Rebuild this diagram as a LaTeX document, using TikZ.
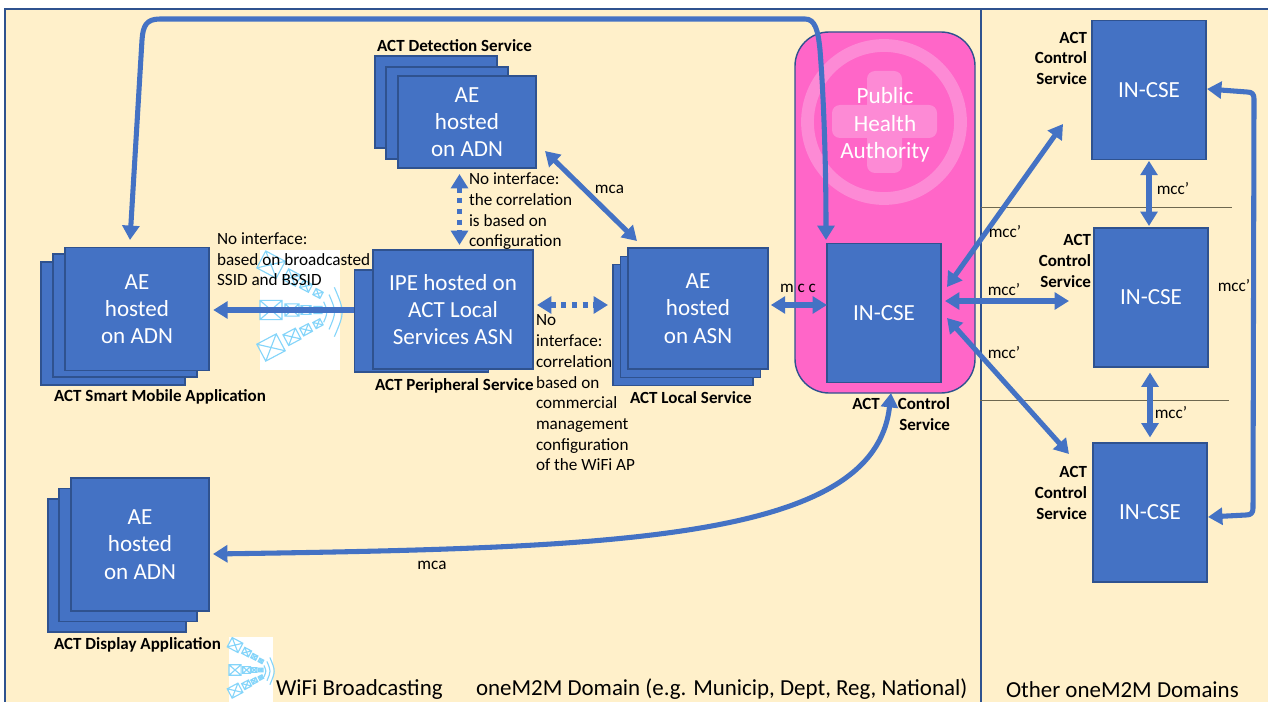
\documentclass[tikz,border=0pt]{standalone}
\usepackage{fontspec}
\setmainfont{Carlito}
\usetikzlibrary{arrows.meta,calc}
\definecolor{panelbg}{HTML}{FFF0CA}
\definecolor{cellblue}{HTML}{4472C4}
\definecolor{celledge}{HTML}{2F528F}
\definecolor{authpink}{HTML}{FF66C8}
\definecolor{authicon}{HTML}{FD8AD5}
\definecolor{wifiblue}{HTML}{85D5FA}
\definecolor{rulegray}{HTML}{6E6850}
\begin{document}
\begin{tikzpicture}[x=0.025cm,y=-0.025cm]

        \tikzset{
            cell/.style={draw=celledge, fill=cellblue, line width=1.1pt, text=white, align=center, outer sep=0pt, inner sep=0pt, font=\fontsize{16.4}{19.4}\selectfont},
            smartbox/.style={cell, minimum width=3.6cm, minimum height=3.075cm},
            displaybox/.style={cell, minimum width=3.45cm, minimum height=3.325cm},
            detectbox/.style={cell, minimum width=3.05cm, minimum height=2.3cm},
            asnbox/.style={cell, minimum width=3.5cm, minimum height=3.025cm},
            csebox/.style={cell, minimum width=2.85cm, minimum height=3.47cm},
            title/.style={font=\fontsize{12.1}{14.8}\bfseries\selectfont, inner sep=0pt, outer sep=0pt, align=center, yshift=-1pt},
            note/.style={font=\fontsize{12.2}{14.7}\selectfont, inner sep=0pt, outer sep=0pt, align=left, yshift=-0.7pt},
            foot/.style={font=\fontsize{16.3}{18}\selectfont, inner sep=0pt, outer sep=0pt, anchor=west, yshift=-1pt},
            link/.style={line width=3.6pt, color=cellblue, line join=round, {Triangle[length=0.36cm,width=0.42cm]}-{Triangle[length=0.36cm,width=0.42cm]}},
            linkD/.style={link, dash pattern=on 3.6pt off 4pt},
            single/.style={line width=3.6pt, color=cellblue, line join=round, -{Triangle[length=0.36cm,width=0.42cm]}},
            wifi/.pic={
                \fill[white] (0,0) rectangle (80,120);
                \foreach \k/\a in {-46/-28,0/0,38/28} {
                    \foreach \u/\s in {11/22,32/14,46/10,58/8} {
                        \begin{scope}[shift={(\u,{60+\k*(85-\u)/75})},rotate=\a]
                            \draw[wifiblue, line width=0.8pt] (-\s/2,-\s/2.3) rectangle (\s/2,\s/2.3) -- (0,0) -- (-\s/2,\s/2.3) (-\s/2,-\s/2.3) -- (0,0) -- (\s/2,-\s/2.3);
                        \end{scope}
                    }
                }
                \foreach \r in {10,17,24} {
                    \draw[wifiblue, line width=0.8pt] ({56+\r*cos(40)},{62-\r*sin(40)*1.6}) .. controls ({56+\r*1.2},62) .. ({56+\r*cos(40)},{62+\r*sin(40)*1.6});
                }
            }
        }

        \useasboundingbox (0,0) rectangle (1268,702);

        \fill[panelbg] (5,9) rectangle (1268,702);
        \draw[celledge, line width=1.3pt] (5,702) -- (5,9) -- (1268,9);
        \draw[celledge, line width=1.1pt] (981,9) -- (981,702);
        \draw[rulegray, line width=0.7pt] (981,207) -- (1232,207);
        \draw[rulegray, line width=0.7pt] (980,400) -- (1229,400);

        % WiFi pictures
        \pic at (260,250) {wifi};
        \pic[scale=0.55] at (229,637) {wifi};

        % public health authority
        \draw[celledge, fill=authpink, line width=1pt, rounded corners=0.85cm] (795,32) rectangle (975,393);
        \draw[authicon, line width=0.32cm] (884,122) circle (76.5);
        \fill[authicon, rounded corners=0.2cm] (867,71) rectangle (902,173);
        \fill[authicon, rounded corners=0.2cm] (832,105) rectangle (937,138);
        \node[text=white, align=center, inner sep=0pt, font=\fontsize{16.5}{19.6}\selectfont] (authority) at (885,125) {Public\\Health\\Authority};

        % stacks
        \node[smartbox] (smartback) at (113,323.5) {};
        \node[smartbox] (smartmid) at (125,315.5) {};
        \node[smartbox] (smartfront) at (137,309) {AE\\hosted\\on ADN};

        \node[detectbox] (detectback) at (436,102) {};
        \node[detectbox] (detectmid) at (447,113) {};
        \node[cell, minimum width=3.45cm, minimum height=2.3cm] (detectfront) at (467,122) {AE\\hosted\\on ADN};

        \node[cell, minimum width=3.35cm, minimum height=2.55cm] (ipeback) at (421.5,321) {};
        \node[cell, minimum width=4cm, minimum height=2.975cm] (ipefront) at (453,309.5) {IPE hosted on\\ACT Local\\Services ASN};

        \node[asnbox] (asnback) at (683,325) {};
        \node[asnbox] (asnmid) at (690.5,317) {};
        \node[asnbox] (asnfront) at (698,308.5) {AE\\hosted\\on ASN};

        \node[displaybox] (displayback) at (117,565.5) {};
        \node[displaybox] (displaymid) at (128,555) {};
        \node[displaybox] (displayfront) at (140,544.5) {AE\\hosted\\on ADN};

        \node[csebox] (incse) at (884,313) {IN-CSE};
        \node[csebox] (csetop) at (1149,90) {IN-CSE};
        \node[csebox] (csemid) at (1151,297.5) {IN-CSE};
        \node[csebox] (csebot) at (1150,512.5) {IN-CSE};

        % free ends
        \coordinate (smarttip) at (130,240);
        \coordinate (toptip) at (1063,124);
        \coordinate (midtip) at (1069,301);
        \coordinate (bottip) at (1069,454);
        \coordinate (fromtop) at (947,287);
        \coordinate (frommid) at (945,301);
        \coordinate (frombot) at (947,318);
        \coordinate (detectend) at (545,151);
        \coordinate (asnend) at (637,241);
        \coordinate (asnrow) at (798,305);
        \coordinate (iperow) at (570,305);
        \coordinate (smartrow) at (280,310);
        \coordinate (pinktip) at (891,393);
        \coordinate (displaytip) at (213,554);
        \coordinate (looptop) at (1207,89);
        \coordinate (loopbot) at (1208,517);

        % links
        \draw[link] (smarttip) -- (142,40) .. controls (143,26) and (146,19) .. (160,19) -- (805,19) .. controls (815,19) and (818,30) .. (820,50) .. controls (824,100) and (826,170) .. (826,240);
        \draw[single, shorten >=3pt] (ipeback.west |- smartrow) -- (smartfront.east |- smartrow);
        \draw[linkD] (459.5,174) -- (459.5,245);
        \draw[link] (detectend) -- (asnend);
        \draw[linkD] (ipefront.east |- iperow) ++(4,0) -- (608,305);
        \draw[link, shorten <=2pt] (asnfront.east |- asnrow) -- (incse.west |- asnrow);
        \draw[link] (fromtop) -- (toptip);
        \draw[link] (frommid) -- (midtip);
        \draw[link] (frombot) -- (bottip);
        \draw[link, shorten <=1pt, shorten >=1.5pt] (csetop.south) -- (csemid.north -| csetop.south);
        \draw[link, shorten <=4pt, shorten >=4pt] (csemid.south -| csebot.north) -- (csebot.north);
        \draw[link] (looptop) -- (1247,92) .. controls (1252,92) and (1254,94) .. (1254,99) -- (1253,508) .. controls (1253,513) and (1251,515) .. (1246,515) -- (loopbot);
        \draw[link] (displaytip) .. controls (620,548) and (875,540) .. (pinktip);

        % titles
        \node[title] (detecttitle) at (454.5,44) {ACT Detection Service};
        \node[title, anchor=west] (smarttitle) at (54,395) {ACT Smart Mobile Application};
        \node[title, anchor=west] (ipetitle) at (375,384) {ACT Peripheral Service};
        \node[title, anchor=west] (asntitle) at (630,396) {ACT Local Service};
        \node[title, anchor=west] (displaytitle) at (54,643) {ACT Display Application};
        \node[title, align=right, anchor=east] (ctrltitle) at (950,412.5) {ACT\hspace{10pt} Control\\Service};
        \node[title, align=right, anchor=east] (toptitle) at (1087,57) {ACT\\Control\\Service};
        \node[title, align=right, anchor=east] (midtitle) at (1091,259.5) {ACT\\Control\\Service};
        \node[title, align=right, anchor=east] (bottitle) at (1087,491.5) {ACT\\Control\\Service};

        % interface notes
        \node[note, anchor=west] (notesmart) at (217,258.5) {No interface:\\based on broadcasted\\SSID and BSSID};
        \node[note, anchor=west] (notedetect) at (469,210.5) {No interface:\\the correlation\\is based on\\configuration};
        \node[note, anchor=north west] (noteipe) at (536,314) {No\\interface:\\correlation\\based on\\commercial\\management\\configuration\\of the WiFi AP};
        \node[note] (mcaup) at (609.5,188.5) {mca};
        \node[note] (mcadown) at (432,564.5) {mca};
        \node[note] (mccasn) at (798,287) {m c c};
        \node[note] (mcctop) at (1173,188) {mcc’};
        \node[note] (mccul) at (1005,231) {mcc’};
        \node[note] (mccml) at (1004,289) {mcc’};
        \node[note] (mccll) at (1004,352) {mcc’};
        \node[note] (mccloop) at (1234,285) {mcc’};
        \node[note] (mccbot) at (1171,412) {mcc’};

        % domains
        \node[foot] (wifilabel) at (276,688) {WiFi Broadcasting};
        \node[foot] (domainlabel) at (476,688) {oneM2M Domain (e.g. Municip, Dept, Reg, National)};
        \node[foot] (otherlabel) at (1006,688) {Other oneM2M Domains};

    \end{tikzpicture}
\end{document}
